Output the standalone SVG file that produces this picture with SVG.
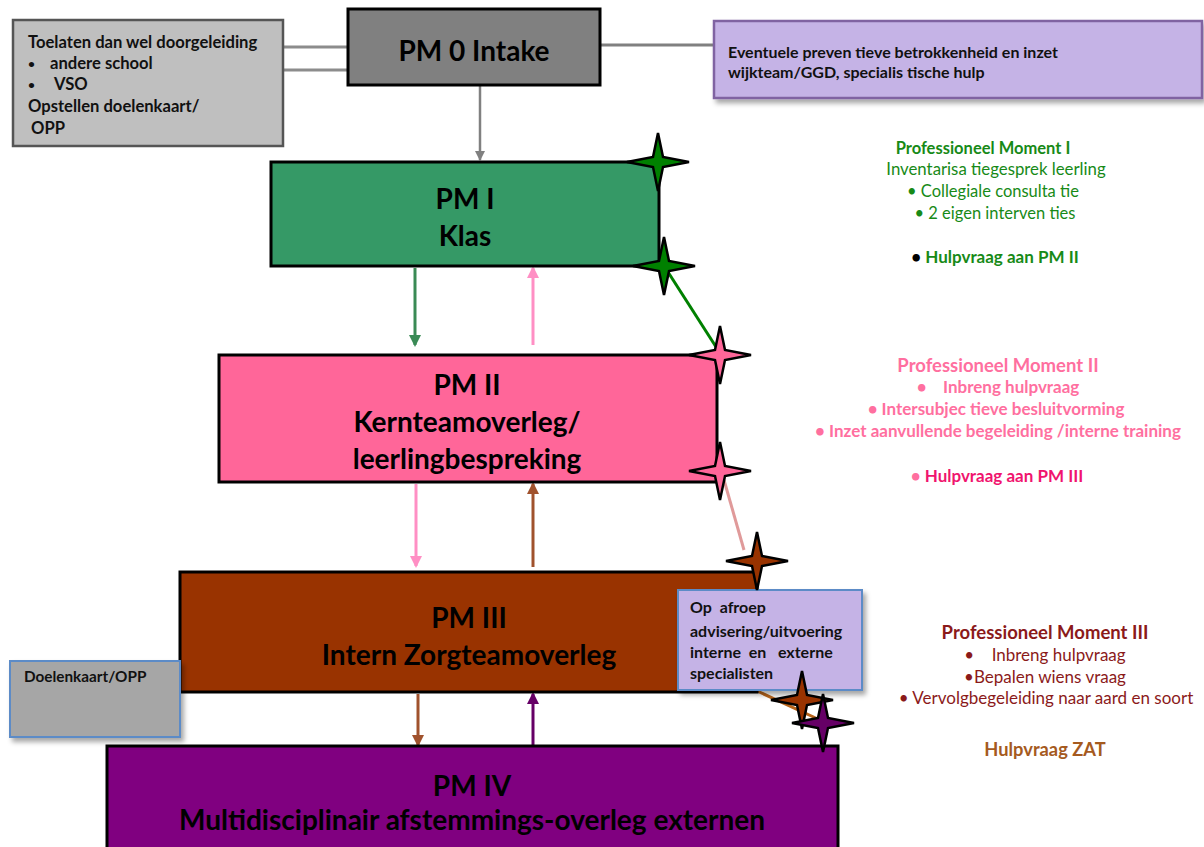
<svg xmlns="http://www.w3.org/2000/svg" width="1204" height="847" viewBox="0 0 1204 847">
<style>
text{font-family:Lato,"Open Sans","Liberation Sans",sans-serif;white-space:pre}
.b{font-weight:bold}
.big{font-size:28px;font-weight:bold;fill:#000;text-anchor:middle}
.small{font-size:16px;font-weight:bold;fill:#111}
.lb{font-size:16.6px}
.bul{font-size:12px}
.box{stroke:#000;stroke-width:3}
.c{text-anchor:middle}
.g{fill:#178A17}
.p{fill:#FF6F9F}
.r{fill:#8B1A1A}
</style>
<defs>
<filter id="sh" x="-10%" y="-10%" width="130%" height="140%">
<feDropShadow dx="3" dy="4" stdDeviation="2.5" flood-color="#000" flood-opacity="0.35"/>
</filter>
<path id="star" d="M0,-29 L5,-5 L31,0 L5,5 L0,29 L-5,5 L-31,0 L-5,-5 Z" stroke="#000" stroke-width="2.5" stroke-linejoin="miter"/>
<marker id="mGreen" markerWidth="12" markerHeight="12" refX="10" refY="6" orient="auto" markerUnits="userSpaceOnUse" viewBox="0 0 12 12"><path d="M0,0 L12,6 L0,12 Z" fill="#3A8A55"/></marker>
<marker id="mPink" markerWidth="12" markerHeight="12" refX="10" refY="6" orient="auto" markerUnits="userSpaceOnUse" viewBox="0 0 12 12"><path d="M0,0 L12,6 L0,12 Z" fill="#FF8FC4"/></marker>
<marker id="mBrown" markerWidth="12" markerHeight="12" refX="10" refY="6" orient="auto" markerUnits="userSpaceOnUse" viewBox="0 0 12 12"><path d="M0,0 L12,6 L0,12 Z" fill="#A0522D"/></marker>
<marker id="mPurple" markerWidth="12" markerHeight="12" refX="10" refY="6" orient="auto" markerUnits="userSpaceOnUse" viewBox="0 0 12 12"><path d="M0,0 L12,6 L0,12 Z" fill="#660066"/></marker>
<marker id="mGray" markerWidth="10" markerHeight="10" refX="9" refY="5" orient="auto" markerUnits="userSpaceOnUse" viewBox="0 0 10 10"><path d="M0,0 L10,5 L0,10 Z" fill="#808080"/></marker>
</defs>
<rect width="1204" height="847" fill="#fff"/>

<g id="connectors" fill="none" stroke-width="3">
<line x1="284" y1="47" x2="348" y2="47" stroke="#8C8C8C"/>
<line x1="284" y1="70" x2="348" y2="70" stroke="#8C8C8C"/>
<line x1="600" y1="45" x2="714" y2="45" stroke="#808080"/>
<line x1="480" y1="86" x2="480" y2="160" stroke="#808080" stroke-width="2.5" marker-end="url(#mGray)"/>
<line x1="415" y1="268" x2="415" y2="345" stroke="#3A8A55" marker-end="url(#mGreen)"/>
<line x1="533" y1="345" x2="533" y2="268" stroke="#FF8FC4" marker-end="url(#mPink)"/>
<line x1="416" y1="484" x2="416" y2="566" stroke="#FF8FC4" marker-end="url(#mPink)"/>
<line x1="533" y1="567" x2="533" y2="484" stroke="#A0522D" marker-end="url(#mBrown)"/>
<line x1="418" y1="694" x2="418" y2="745" stroke="#A0522D" marker-end="url(#mBrown)"/>
<line x1="533" y1="746" x2="533" y2="694" stroke="#660066" marker-end="url(#mPurple)"/>
<line x1="668" y1="272" x2="718" y2="350" stroke="#008000"/>
<line x1="724" y1="480" x2="744" y2="550" stroke="#E09A9A"/>
<line x1="755" y1="690" x2="820" y2="720" stroke="#B8651B"/>
</g>

<g id="left-box">
<rect x="13" y="20" width="270" height="126" fill="#BFBFBF" stroke="#555" stroke-width="2.5"/>
<text class="small lb" x="28" y="48">Toelaten dan wel doorgeleiding</text>
<text class="small bul" x="28" y="68">•</text><text class="small lb" x="50" y="69">andere school</text>
<text class="small bul" x="28" y="89">•</text><text class="small lb" x="54" y="90">VSO</text>
<text class="small lb" x="28" y="112">Opstellen doelenkaart/</text>
<text class="small lb" x="31" y="134">OPP</text>
</g>

<g id="pm0">
<rect x="348" y="9" width="252" height="76" fill="#808080" class="box" stroke-width="2.5"/>
<text class="big" x="474" y="61">PM 0 Intake</text>
</g>

<g id="top-right-box">
<rect x="714" y="21" width="488" height="77" fill="#C5B3E6" stroke="#8064A2" stroke-width="2.5" filter="url(#sh)"/>
<text class="small" x="728" y="58">Eventuele preven tieve betrokkenheid en inzet</text>
<text class="small" x="728" y="78">wijkteam/GGD, specialis tische hulp</text>
</g>

<g id="pm1">
<rect x="271" y="162" width="388" height="104" fill="#359966" class="box"/>
<text class="big" x="465" y="209">PM I</text>
<text class="big" x="465" y="246">Klas</text>
</g>

<g id="pm2">
<rect x="219" y="355" width="498" height="127" fill="#FF6699" class="box"/>
<text class="big" x="467" y="395">PM II</text>
<text class="big" x="467" y="432">Kernteamoverleg/</text>
<text class="big" x="467" y="469">leerlingbespreking</text>
</g>

<g id="pm3">
<rect x="180" y="572" width="577" height="120" fill="#993300" class="box"/>
<text class="big" x="469" y="628">PM III</text>
<text class="big" x="469" y="665">Intern Zorgteamoverleg</text>
</g>

<g id="pm4">
<rect x="107" y="746" width="731" height="110" fill="#800080" class="box"/>
<text class="big" x="472" y="796">PM IV</text>
<text class="big" x="472" y="830">Multidisciplinair afstemmings-overleg externen</text>
</g>

<g id="doelenkaart">
<rect x="10" y="661" width="170" height="76" fill="#A6A6A6" stroke="#5B8BC7" stroke-width="2" filter="url(#sh)"/>
<text class="small" x="24" y="682" style="font-size:15.3px">Doelenkaart/OPP</text>
</g>

<g id="op-afroep">
<rect x="678" y="590" width="184" height="100" fill="#C5B3E6" stroke="#5B8BC7" stroke-width="2" filter="url(#sh)"/>
<text class="small" x="690" y="613">Op  afroep</text>
<text class="small" x="690" y="637">advisering/uitvoering</text>
<text class="small" x="690" y="658">interne  en   externe</text>
<text class="small" x="690" y="679">specialisten</text>
</g>

<g id="stars">
<use href="#star" x="658" y="162" fill="#008000"/>
<use href="#star" x="664" y="266" fill="#008000"/>
<use href="#star" x="720" y="355" fill="#FF6699"/>
<use href="#star" x="720" y="471" fill="#FF6699"/>
<use href="#star" x="757" y="561" fill="#993300"/>
<use href="#star" x="802" y="700" fill="#993300"/>
<use href="#star" x="823" y="723" fill="#660066"/>
</g>

<g id="pm1-text">
<text class="b g c" x="983" y="154" font-size="16.5">Professioneel Moment I</text>
<text class="g c" x="996" y="175" font-size="16.8">Inventarisa tiegesprek leerling</text>
<text class="g c" x="993" y="197" font-size="16.5">• Collegiale consulta tie</text>
<text class="g c" x="995" y="219" font-size="16.5">• 2 eigen interven ties</text>
<text class="b c" x="995" y="263" font-size="17"><tspan fill="#000">•</tspan><tspan class="g"> Hulpvraag aan PM II</tspan></text>
</g>

<g id="pm2-text">
<text class="b p c" x="998" y="372" font-size="18.5">Professioneel Moment II</text>
<text class="b p c" x="998" y="393" font-size="17">•    Inbreng hulpvraag</text>
<text class="b p c" x="996" y="415" font-size="17">• Intersubjec tieve besluitvorming</text>
<text class="b p c" x="998" y="437" font-size="17">• Inzet aanvullende begeleiding /interne training</text>
<text class="b c" x="997" y="482" font-size="17"><tspan class="p">•</tspan><tspan fill="#F0146E"> Hulpvraag aan PM III</tspan></text>
</g>

<g id="pm3-text">
<text class="b r c" x="1045" y="639" font-size="18.5">Professioneel Moment III</text>
<text class="r c" x="1045" y="661" font-size="17">•    Inbreng hulpvraag</text>
<text class="r c" x="1045" y="683" font-size="17">•Bepalen wiens vraag</text>
<text class="r c" x="1046" y="704" font-size="17">• Vervolgbegeleiding naar aard en soort</text>
<text class="b c" x="1045" y="756" font-size="18.3" fill="#A55A1E">Hulpvraag ZAT</text>
</g>
</svg>
